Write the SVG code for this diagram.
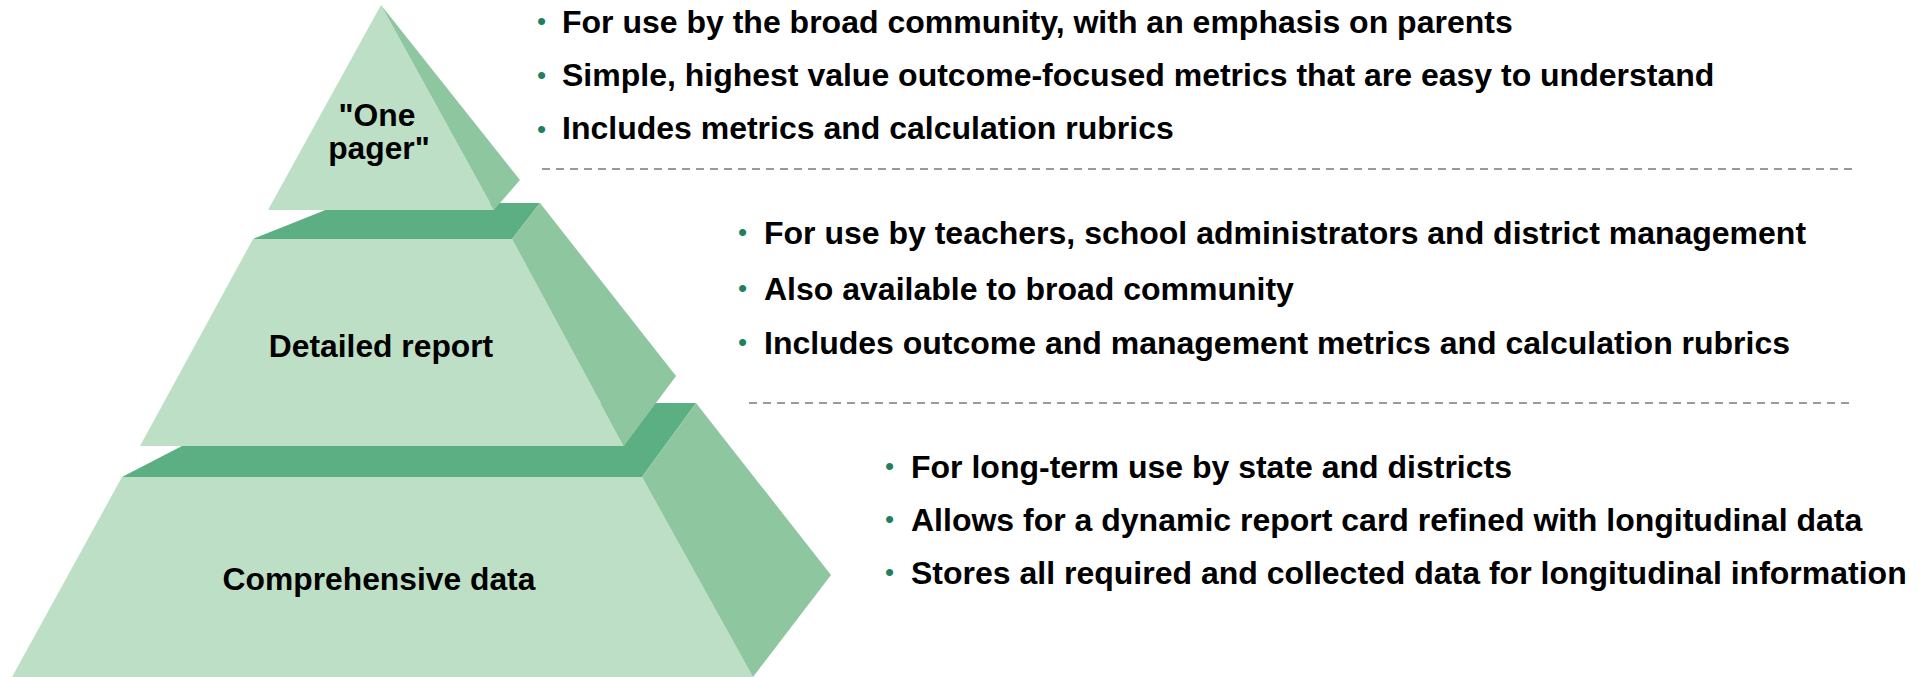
<svg xmlns="http://www.w3.org/2000/svg" width="1926" height="677" viewBox="0 0 1926 677">
  <style>
    .front { fill: #BCDFC5; }
    .side { fill: #8EC6A0; }
    .top { fill: #5BAF83; }
    .label { font-family: "Liberation Sans", Arial, sans-serif; font-weight: bold; font-size: 31.8px; fill: #000; text-anchor: middle; }
    .item { font-family: "Liberation Sans", Arial, sans-serif; font-weight: bold; font-size: 32px; fill: #000; }
    .dot { font-family: "Liberation Sans", Arial, sans-serif; font-size: 26px; fill: #1E8060; }
    .sep { stroke: #9A9A9A; stroke-width: 2; stroke-dasharray: 8 6; fill: none; }
  </style>

  <!-- Pyramid: base tier -->
  <g id="tier-comprehensive">
    <polygon class="top" points="122,477 265,403 696,403 642,477"/>
    <polygon class="front" points="122,477 642,477 753,677 12,677"/>
    <polygon class="side" points="642,477 696,403 831,575 753,677"/>
    <text class="label" x="379" y="590">Comprehensive data</text>
  </g>

  <!-- Pyramid: middle tier -->
  <g id="tier-detailed">
    <polygon class="top" points="253,239 343,203 540,203 512,239"/>
    <polygon class="front" points="253,239 512,239 624,446 140,446"/>
    <polygon class="side" points="512,239 540,203 676,376 624,446"/>
    <text class="label" x="381" y="357">Detailed report</text>
  </g>

  <!-- Pyramid: apex -->
  <g id="tier-onepager">
    <polygon class="front" points="381,5 494,210 268,210"/>
    <polygon class="side" points="381,5 520,180 494,210"/>
    <text class="label" x="377" y="126">"One</text>
    <text class="label" x="379" y="159">pager"</text>
  </g>

  <!-- Dashed separators between the description blocks -->
  <g id="separators">
    <line class="sep" x1="542" y1="169" x2="1854" y2="169"/>
    <line class="sep" x1="749" y1="403" x2="1850" y2="403"/>
  </g>

  <!-- Description: one pager -->
  <g id="desc-onepager">
    <text class="dot" x="537" y="30">•</text>
    <text class="item" x="562" y="33">For use by the broad community, with an emphasis on parents</text>
    <text class="dot" x="537" y="84">•</text>
    <text class="item" x="562" y="86">Simple, highest value outcome-focused metrics that are easy to understand</text>
    <text class="dot" x="537" y="138">•</text>
    <text class="item" x="562" y="139">Includes metrics and calculation rubrics</text>
  </g>

  <!-- Description: detailed report -->
  <g id="desc-detailed">
    <text class="dot" x="738" y="241">•</text>
    <text class="item" x="764" y="244">For use by teachers, school administrators and district management</text>
    <text class="dot" x="738" y="297">•</text>
    <text class="item" x="764" y="300">Also available to broad community</text>
    <text class="dot" x="738" y="351">•</text>
    <text class="item" x="764" y="354">Includes outcome and management metrics and calculation rubrics</text>
  </g>

  <!-- Description: comprehensive data -->
  <g id="desc-comprehensive">
    <text class="dot" x="885" y="475">•</text>
    <text class="item" x="911" y="478">For long-term use by state and districts</text>
    <text class="dot" x="885" y="528">•</text>
    <text class="item" x="911" y="531">Allows for a dynamic report card refined with longitudinal data</text>
    <text class="dot" x="885" y="581">•</text>
    <text class="item" x="911" y="584">Stores all required and collected data for longitudinal information</text>
  </g>
</svg>
